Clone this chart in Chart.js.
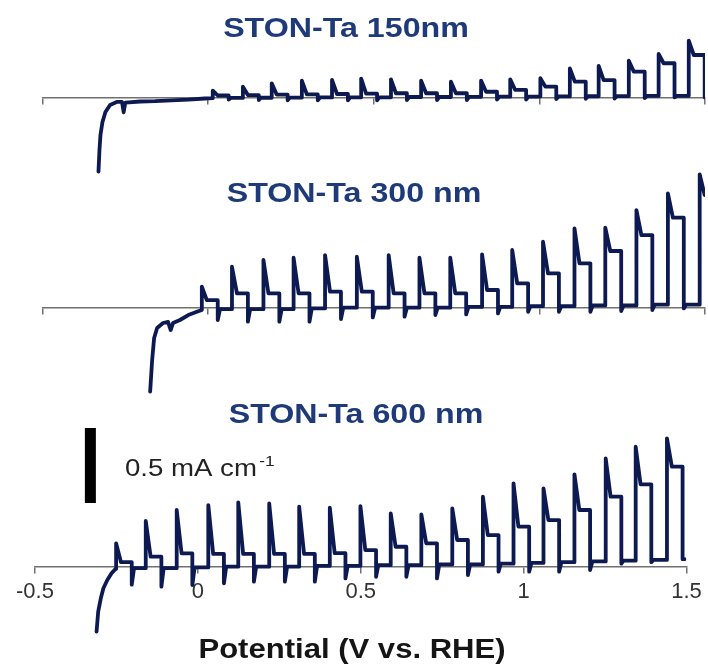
<!DOCTYPE html>
<html>
<head>
<meta charset="utf-8">
<script src="https://cdn.jsdelivr.net/npm/chart.js@4.4.1/dist/chart.umd.min.js"></script>
<style>
  html, body { margin: 0; padding: 0; background: #fff; }
  #figure { position: relative; width: 708px; height: 671px; background: #fff; }
  #figure canvas { position: absolute; left: 0; top: 0; }
</style>
</head>
<body>
<div id="figure">
  <canvas id="p150" width="708" height="671"></canvas>
  <canvas id="p300" width="708" height="671"></canvas>
  <canvas id="p600" width="708" height="671"></canvas>
</div>
<script>
// chopped-light scans, potential in V vs. RHE, current density in mA cm^-2
const xTicks = [-0.5, 0, 0.5, 1, 1.5];
const xTickLabels = ['-0.5', '0', '0.5', '1', '1.5'];

// 150 nm film
const start150 = [[-0.331, -0.496], [-0.328, -0.351], [-0.325, -0.251], [-0.319, -0.165], [-0.310, -0.098],
  [-0.296, -0.051], [-0.276, -0.031], [-0.260, -0.031], [-0.255, -0.10], [-0.250, -0.035], [-0.205, -0.028],
  [-0.160, -0.026], [-0.110, -0.020], [-0.060, -0.016], [-0.010, -0.008]];
const on150 = [0.014, 0.105, 0.192, 0.283, 0.374, 0.462, 0.552, 0.643, 0.733, 0.824, 0.912, 1.003, 1.092, 1.179, 1.270, 1.360, 1.451];
const peak150 = [0.044, 0.071, 0.093, 0.111, 0.116, 0.125, 0.120, 0.111, 0.104, 0.111, 0.120, 0.127, 0.193, 0.209, 0.244, 0.289, 0.377];
const plateau150 = [0.012, 0.015, 0.018, 0.020, 0.022, 0.025, 0.027, 0.027, 0.027, 0.037, 0.049, 0.071, 0.104, 0.115, 0.171, 0.227, 0.282];
const dip150 = [-0.015, -0.018, -0.020, -0.020, -0.020, -0.020, -0.018, -0.018, -0.018, -0.015, -0.015, -0.012, -0.010, -0.008, -0.005, 0, 0];
const dark150 = [-0.006, -0.004, -0.003, -0.002, -0.001, 0, 0, 0.002, 0.002, 0.003, 0.004, 0.005, 0.006, 0.007, 0.008, 0.009, 0.010];
const end150 = [1.5, 0.010];

// 300 nm film
const start300 = [[-0.175, -0.56], [-0.169, -0.349], [-0.163, -0.202], [-0.154, -0.135], [-0.136, -0.102],
  [-0.121, -0.095], [-0.113, -0.149], [-0.106, -0.102], [-0.085, -0.082], [-0.060, -0.049], [-0.036, -0.029]];
const on300 = [-0.019, 0.072, 0.167, 0.258, 0.353, 0.449, 0.545, 0.638, 0.731, 0.827, 0.918, 1.011, 1.106, 1.199, 1.293, 1.388, 1.484];
const peak300 = [0.140, 0.273, 0.318, 0.333, 0.351, 0.340, 0.351, 0.333, 0.333, 0.356, 0.385, 0.440, 0.529, 0.533, 0.651, 0.762, 0.889];
const plateau300 = [0.050, 0.096, 0.096, 0.096, 0.107, 0.107, 0.096, 0.096, 0.096, 0.118, 0.162, 0.229, 0.296, 0.378, 0.484, 0.600, 0.751];
const dip300 = [-0.082, -0.093, -0.093, -0.093, -0.076, -0.065, -0.060, -0.049, -0.045, -0.038, -0.027, -0.027, -0.027, -0.022, -0.016, -0.005, 0.020];
const dark300 = [-0.015, -0.010, -0.010, -0.010, -0.005, 0, 0, 0, 0, 0.005, 0.005, 0.010, 0.010, 0.015, 0.015, 0.020, 0.020];
const end300 = [1.5, 0.751];

// 600 nm film
const start600 = [[-0.311, -0.433], [-0.306, -0.300], [-0.298, -0.211], [-0.290, -0.144], [-0.278, -0.089],
  [-0.265, -0.044], [-0.255, -0.020]];
const on600 = [-0.251, -0.160, -0.065, 0.032, 0.124, 0.219, 0.311, 0.405, 0.499, 0.592, 0.686, 0.781, 0.875, 0.969, 1.061, 1.156, 1.252, 1.344, 1.440];
const peak600 = [0.156, 0.305, 0.378, 0.411, 0.429, 0.422, 0.400, 0.393, 0.404, 0.356, 0.349, 0.389, 0.467, 0.556, 0.522, 0.616, 0.722, 0.800, 0.856];
const plateau600 = [0.030, 0.067, 0.089, 0.085, 0.085, 0.085, 0.085, 0.090, 0.111, 0.133, 0.156, 0.178, 0.211, 0.267, 0.311, 0.378, 0.467, 0.549, 0.667];
const dip600 = [-0.120, -0.133, -0.122, -0.111, -0.100, -0.100, -0.100, -0.078, -0.067, -0.067, -0.078, -0.056, -0.033, -0.033, -0.033, -0.022, 0.020, 0.030, 0.050];
const dark600 = [-0.015, -0.010, -0.010, -0.005, 0, 0, 0, 0.005, 0.005, 0.010, 0.010, 0.015, 0.015, 0.020, 0.025, 0.030, 0.035, 0.040, 0.045];
const end600 = [1.494, 0.050];

// scale bar (mA cm^-2)
const scaleBarValue = 0.5;
const scaleBarX = -0.33;
const scaleBarFrom = 0.425;

const LIGHT_ON = 0.048;   // width of an illuminated step in V
const DECAY = 0.015;
const RECOVER = 0.007;

const FONT = "'Liberation Sans', Arial, sans-serif";
const LINE = '#0d1a52';
const TITLE = '#1e3a78';
const AXIS_GREY = '#707070';
const PX_PER_MA = 150;
const H = 671;
const TEXT_STRETCH = 1.15;

function buildTrace(start, on, peak, plateau, dip, dark, end) {
  const pts = start.map(([x, y]) => ({x, y}));
  on.forEach((e, i) => {
    const off = e + LIGHT_ON;
    pts.push({x: e, y: dark[i]}, {x: e, y: peak[i]}, {x: e + DECAY, y: plateau[i]});
    if (off >= end[0]) return;
    const next = i + 1 < on.length ? dark[i + 1] : end[1];
    pts.push({x: off, y: plateau[i]}, {x: off, y: dip[i]}, {x: Math.min(off + RECOVER, end[0]), y: next});
  });
  pts.push({x: end[0], y: end[1]});
  return pts;
}

function textLayer(items) {
  return {
    id: 'textLayer',
    afterDraw(chart) {
      const ctx = chart.ctx;
      items.forEach(t => {
        ctx.save();
        ctx.font = t.font;
        ctx.fillStyle = t.color;
        ctx.textAlign = t.align || 'center';
        ctx.textBaseline = t.baseline || 'middle';
        ctx.translate(t.x, t.y);
        ctx.scale(TEXT_STRETCH, 1);
        ctx.fillText(t.text, 0, 0);
        if (t.sup) {
          const w = ctx.measureText(t.text).width;
          ctx.font = t.supFont;
          ctx.textAlign = 'left';
          ctx.fillText(t.sup, w + 2, -10);
        }
        ctx.restore();
      });
    }
  };
}

function traceDataset(points) {
  return {
    data: points,
    borderColor: LINE,
    borderWidth: 3.8,
    pointRadius: 0,
    tension: 0,
    borderJoinStyle: 'round',
    borderCapStyle: 'round'
  };
}

function drawPanel(id, p) {
  return new Chart(document.getElementById(id), {
    type: 'line',
    data: { datasets: p.datasets },
    options: {
      responsive: false,
      animation: false,
      devicePixelRatio: 1,
      parsing: false,
      layout: { padding: { left: p.left, right: p.right, top: 0, bottom: 0 } },
      plugins: { legend: { display: false }, tooltip: { enabled: false } },
      scales: {
        x: {
          type: 'linear',
          min: -0.5,
          max: 1.5,
          position: { y: 0 },
          afterBuildTicks: s => { s.ticks = xTicks.map(v => ({value: v})); },
          grid: { drawOnChartArea: false, drawTicks: true, tickLength: 6, color: AXIS_GREY, lineWidth: 1.5 },
          border: { display: true, color: AXIS_GREY, width: 1.5 },
          ticks: {
            display: p.labels,
            padding: 6,
            color: '#333',
            font: { family: FONT, size: 22 },
            maxRotation: 0,
            callback: (v, i) => xTickLabels[i]
          }
        },
        y: {
          type: 'linear',
          display: false,
          min: -(H - p.base) / PX_PER_MA,
          max: p.base / PX_PER_MA
        }
      }
    },
    plugins: [textLayer(p.texts)]
  });
}

drawPanel('p150', {
  left: 42.5, right: 3, base: 97.3, labels: false,
  datasets: [traceDataset(buildTrace(start150, on150, peak150, plateau150, dip150, dark150, end150))],
  texts: [{ text: 'STON-Ta 150nm', x: 346, y: 29, font: 'bold 28px ' + FONT, color: TITLE }]
});

drawPanel('p300', {
  left: 42.5, right: 3, base: 307.7, labels: false,
  datasets: [traceDataset(buildTrace(start300, on300, peak300, plateau300, dip300, dark300, end300))],
  texts: [{ text: 'STON-Ta 300 nm', x: 354, y: 194, font: 'bold 28px ' + FONT, color: TITLE }]
});

drawPanel('p600', {
  left: 35, right: 21.5, base: 566.7, labels: true,
  datasets: [
    traceDataset(buildTrace(start600, on600, peak600, plateau600, dip600, dark600, end600)),
    {
      data: [{x: scaleBarX, y: scaleBarFrom}, {x: scaleBarX, y: scaleBarFrom + scaleBarValue}],
      borderColor: '#000', borderWidth: 11, pointRadius: 0, borderCapStyle: 'butt'
    }
  ],
  texts: [
    { text: 'STON-Ta 600 nm', x: 356, y: 415, font: 'bold 28px ' + FONT, color: TITLE },
    { text: scaleBarValue + ' mA cm', sup: '-1', x: 125, y: 476, align: 'left', baseline: 'alphabetic',
      font: '24px ' + FONT, supFont: '15px ' + FONT, color: '#222' },
    { text: 'Potential (V vs. RHE)', x: 352, y: 651, font: 'bold 27px ' + FONT, color: '#151515' }
  ]
});
</script>
</body>
</html>
